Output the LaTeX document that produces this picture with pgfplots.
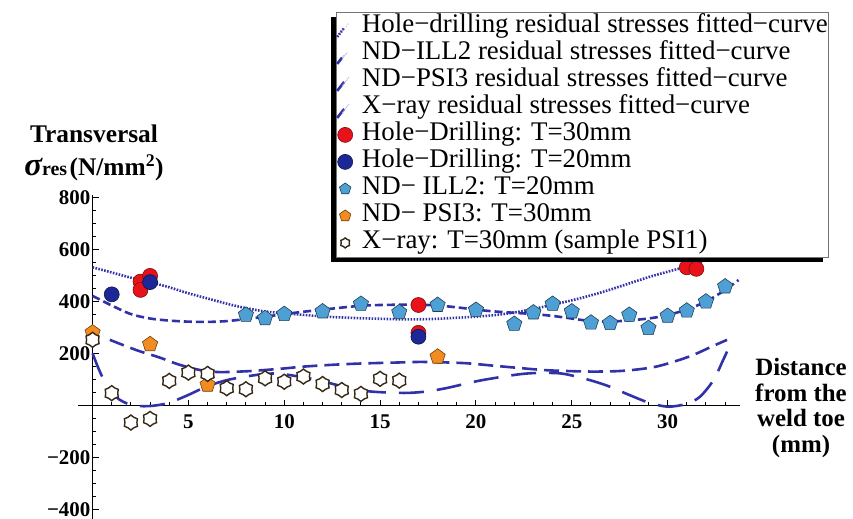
\documentclass[border=0pt]{standalone}
\usepackage{fontspec}
\setmainfont{Liberation Serif}
\usepackage{pgfplots}
\pgfplotsset{compat=1.18}
\usetikzlibrary{shadows,plotmarks}
\definecolor{cblue}{RGB}{50,50,168}
\definecolor{hdred}{RGB}{232,18,26}
\definecolor{hdblue}{RGB}{28,40,150}
\definecolor{illblue}{RGB}{78,160,212}
\definecolor{psiorange}{RGB}{242,140,32}
\definecolor{xrayedge}{RGB}{55,40,20}
\pgfdeclareplotmark{gear}{%
  \pgfpathmoveto{\pgfpointpolar{90}{\pgfplotmarksize}}%
  \pgfpathlineto{\pgfpointpolar{120}{0.8\pgfplotmarksize}}%
  \pgfpathlineto{\pgfpointpolar{150}{\pgfplotmarksize}}%
  \pgfpathlineto{\pgfpointpolar{180}{0.8\pgfplotmarksize}}%
  \pgfpathlineto{\pgfpointpolar{210}{\pgfplotmarksize}}%
  \pgfpathlineto{\pgfpointpolar{240}{0.8\pgfplotmarksize}}%
  \pgfpathlineto{\pgfpointpolar{270}{\pgfplotmarksize}}%
  \pgfpathlineto{\pgfpointpolar{300}{0.8\pgfplotmarksize}}%
  \pgfpathlineto{\pgfpointpolar{330}{\pgfplotmarksize}}%
  \pgfpathlineto{\pgfpointpolar{0}{0.8\pgfplotmarksize}}%
  \pgfpathlineto{\pgfpointpolar{30}{\pgfplotmarksize}}%
  \pgfpathlineto{\pgfpointpolar{60}{0.8\pgfplotmarksize}}%
  \pgfpathclose
  \pgfusepathqfillstroke}
\pgfplotsset{
  lineleg/.style={legend image code/.code={\path (-3.5bp,0bp) (19bp,0bp);\draw[##1,line width=0.6bp,draw=cblue!35] (1bp,-5bp) -- (8bp,4bp);}},
  markleg/.style={legend image code/.code={\path (-3.5bp,0bp) (19bp,0bp);\draw[##1, mark size=#1] plot coordinates {(4bp,0bp)};}},
}
\begin{document}
\begin{tikzpicture}
\useasboundingbox (-78bp,0bp) rectangle (775bp,519bp);
\begin{axis}[
  scale only axis, width=661.5bp, height=324bp,
  at={(0bp,0bp)}, anchor=south west,
  xmin=-0.76, xmax=33.75, ymin=-436, ymax=810,
  axis lines=middle, axis line style={-, line width=1.6bp, black},
  clip=false,
  xtick={5,10,15,20,25,30}, xticklabels={5,10,15,20,25,30},
  ytick={-400,-200,200,400,600,800}, yticklabels={−400,−200,200,400,600,800},
  minor xtick={1,2,3,4,6,7,8,9,11,12,13,14,16,17,18,19,21,22,23,24,26,27,28,29,31,32,33},
  minor ytick={-350,-300,-250,-150,-100,-50,50,100,150,250,300,350,450,500,550,650,700,750},
  tick align=inside,
  major tick length=6bp, minor tick length=3.5bp,
  every tick/.style={black, line width=1bp},
  every tick label/.append style={font=\fontsize{21}{21}\selectfont\bfseries},
  yticklabel style={inner xsep=2bp},
  xticklabel style={inner ysep=9bp},
  legend style={at={(0.390,1.5648)}, anchor=north west,
    draw=black!55, line width=0.8bp, fill=white,
    drop shadow={shadow xshift=-5bp, shadow yshift=-5bp, fill=black, opacity=1},
    font=\fontsize{27}{27}\selectfont,
    inner xsep=0bp, inner ysep=1bp, row sep=0bp, column sep=0bp,
    nodes={inner sep=0.5bp, text height=19bp, text depth=7bp}},
  legend cell align=left,
]
% Hole-drilling fitted curve
\addplot[cblue, line width=2.6bp, dash pattern=on 1.6bp off 1.4bp, smooth, lineleg] coordinates {
(0,532)(1,512)(2,492)(3,475)(4,455)(5,432)(6,412)(7,392)(8,375)(9,362)(10,355)
(11,349)(12,343)(13,339)(14,336)(15,334)(16,332)(17,332)(18,334)(19,338)(20,342)
(21,348)(22,358)(23,372)(24,388)(25,405)(26,424)(27,446)(28,470)(29,494)(30,515)
(31,535)(32,560)(33,585)};
\addlegendentry{Hole−drilling residual stresses fitted−curve\hspace{7bp}}
% ND-ILL2 fitted curve
\addplot[cblue, line width=2.6bp, dash pattern=on 8bp off 4bp, smooth, lineleg] coordinates {
(0,422)(1,385)(2,352)(3,335)(4,327)(5,323)(6,322)(7,325)(8,333)(9,342)(10,352)
(11,361)(12,369)(13,377)(14,384)(15,387)(16,388)(17,388)(18,385)(19,378)(20,369)
(21,362)(22,357)(23,352)(24,345)(25,335)(26,325)(27,323)(28,328)(29,335)(30,348)
(31,370)(32,400)(33,445)(33.7,483)};
\addlegendentry{ND−ILL2 residual stresses fitted−curve}
% ND-PSI3 fitted curve
\addplot[cblue, line width=2.6bp, dash pattern=on 15bp off 7bp, smooth, lineleg] coordinates {
(0.9,253)(1.8,227)(2.5,208)(3.5,185)(4.5,158)(5.6,137)(6.6,129)(8,132)(9,137)
(10,143)(11,150)(12.5,157)(14,162)(16,166)(17,168)(18,167)(19.5,163)(21,153)
(23,140)(24,135)(26,131)(27.7,134)(29.4,150)(31.1,188)(32.3,227)(33.1,253)};
\addlegendentry{ND−PSI3 residual stresses fitted−curve}
% X-ray fitted curve
\addplot[cblue, line width=2.6bp, dash pattern=on 25bp off 13bp, smooth, lineleg] coordinates {
(0,201)(0.5,112)(1.2,35)(2,3)(2.9,-2)(3.9,9)(4.9,38)(6,75)(7,98)(8,112)(9,122)
(9.7,123)(10.5,115)(11.7,99)(13.1,73)(14.3,56)(15.5,50)(16.5,49)(17.5,55)(18.5,68)
(19.5,85)(20.4,99)(22,118)(23,125)(24.4,124)(25.6,105)(26.8,78)(28,41)(29,12)
(30,-4)(31,7)(31.7,35)(32.4,99)(32.9,176)(33.1,208)};
\addlegendentry{X−ray residual stresses fitted−curve}
% Hole-drilling T=30
\addplot[only marks, mark=*, mark size=7.5bp,
  mark options={fill=hdred, draw=hdred!55!black, line width=0.6bp},
  markleg=7.5bp] coordinates {
(2.5,477)(2.5,445)(3,499)(17,387)(17,280)(31,532)(31.5,526)};
\addlegendentry{Hole−Drilling: T=30mm}
% Hole-drilling T=20
\addplot[only marks, mark=*, mark size=7.5bp,
  mark options={fill=hdblue, draw=hdblue!50!black, line width=0.6bp},
  markleg=7.5bp] coordinates {
(1,428)(3,475)(17,265)};
\addlegendentry{Hole−Drilling: T=20mm}
% ND-ILL2 points
\addplot[only marks, mark=pentagon*, mark size=8bp,
  mark options={fill=illblue, draw=illblue!40!black, line width=0.6bp},
  markleg=6bp] coordinates {
(8,349)(9,336)(10,352)(12,362)(14,391)(16,359)(18,387)(20,368)(22,314)(23,358)
(24,391)(25,362)(26,319)(27,317)(28,349)(29,298)(30,345)(31,365)(32,400)(33,458)};
\addlegendentry{ND− ILL2: T=20mm}
% ND-PSI3 points
\addplot[only marks, mark=pentagon*, mark size=8bp,
  mark options={fill=psiorange, draw=psiorange!45!black, line width=0.6bp},
  markleg=6bp] coordinates {
(0,281)(3,236)(6,80)(18,188)};
\addlegendentry{ND− PSI3: T=30mm}
% X-ray points
\addplot[only marks, mark=gear, mark size=7.5bp,
  mark options={fill=white, draw=xrayedge, line width=1.4bp},
  markleg=5bp] coordinates {
(0,253)(1,48)(2,-65)(3,-51)(4,95)(5,127)(6,122)(7,67)(8,63)(9,105)(10,92)
(11,112)(12,83)(13,60)(14,45)(15,103)(16,96)};
\addlegendentry{X−ray: T=30mm (sample PSI1)}
\end{axis}
\node[font=\fontsize{25.5}{25.5}\selectfont\bfseries] at (16bp,385bp) {Transversal};
\node at (16bp,351bp) {{\fontsize{33}{33}\selectfont\bfseries\itshape σ}{\fontsize{20}{20}\selectfont\bfseries res} {\fontsize{25.5}{25.5}\selectfont\bfseries (N/mm\textsuperscript{2})}};
\node[align=center, font=\fontsize{25}{26}\selectfont\bfseries] at (723bp,111bp) {Distance\\from the\\weld toe\\(mm)};
\end{tikzpicture}
\end{document}
